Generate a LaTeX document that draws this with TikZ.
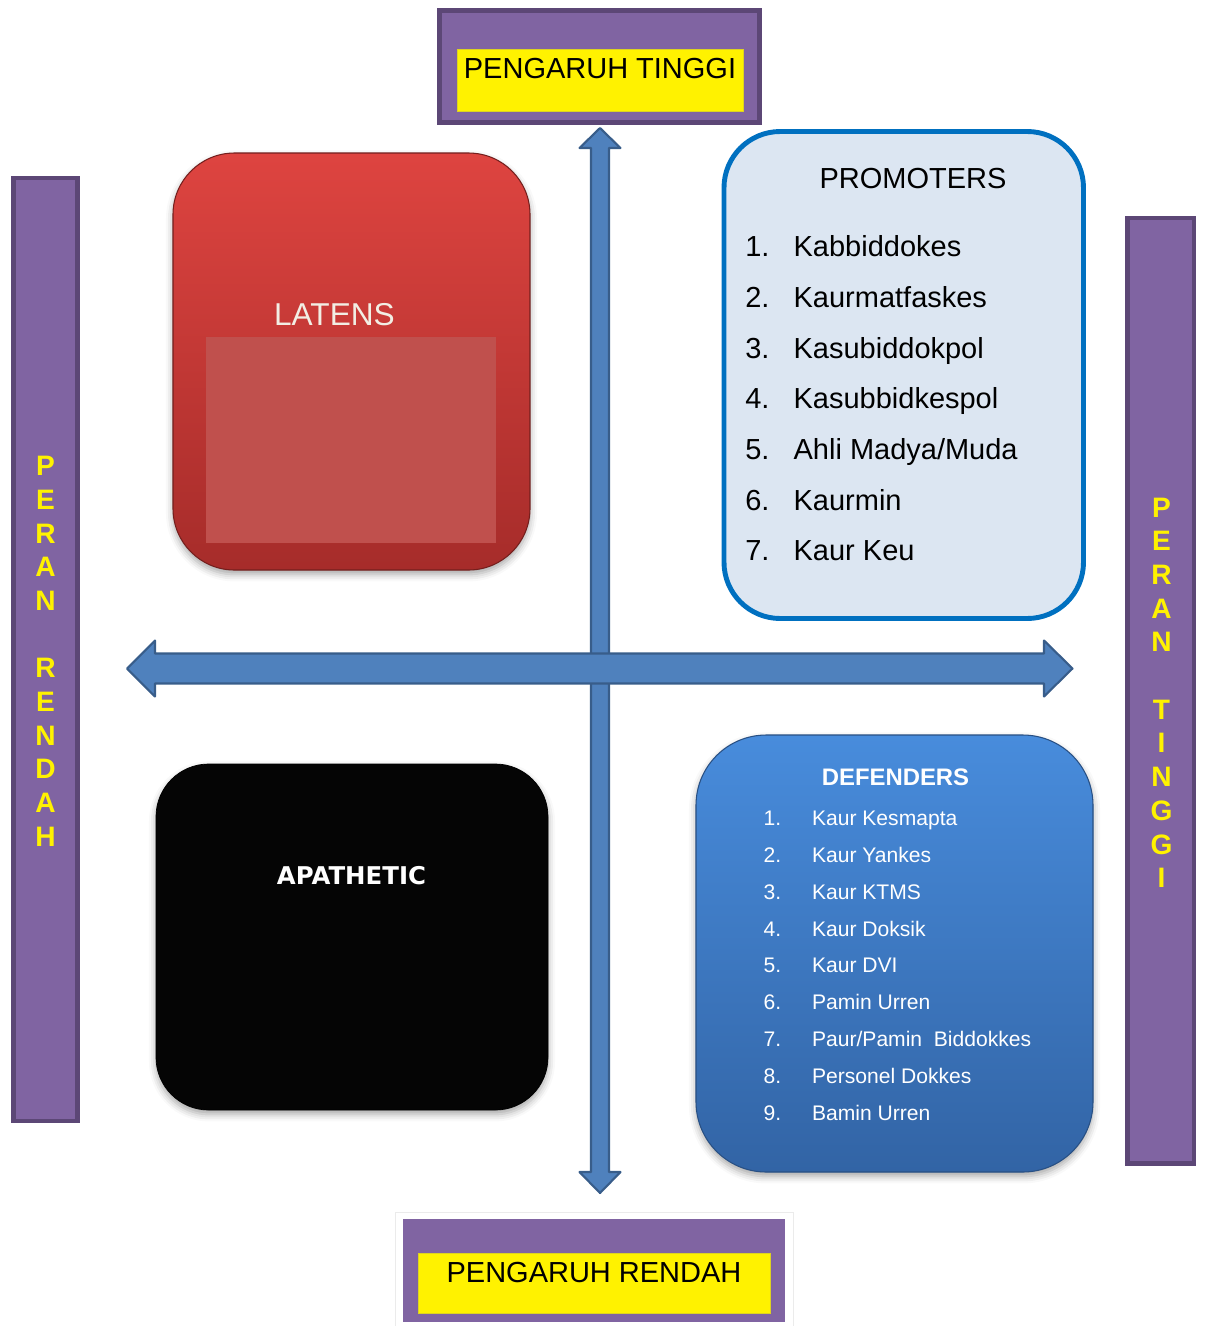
\documentclass[tikz,border=0pt]{standalone}
\usepackage{fontspec}
\setmainfont{Liberation Sans}
\newfontfamily\widebold{DejaVu Sans}
\usepackage{xcolor}
\usepackage{tikz}
\usetikzlibrary{shadows.blur}

\definecolor{barpurple}{HTML}{8064A2}
\definecolor{barborder}{HTML}{5C4776}
\definecolor{axisblue}{HTML}{4F81BD}
\definecolor{axisborder}{HTML}{385D8A}
\definecolor{latenstop}{RGB}{222,68,64}
\definecolor{latensbottom}{RGB}{166,44,42}
\definecolor{latensinner}{HTML}{C0504D}
\definecolor{latensfont}{HTML}{F2EEE4}
\definecolor{promofill}{HTML}{DCE6F2}
\definecolor{promoborder}{HTML}{0070C0}
\definecolor{deftop}{RGB}{72,140,220}
\definecolor{defbottom}{RGB}{50,100,165}

\tikzset{
  purplebar/.style={fill=barpurple, draw=barborder, line width=2.8pt},
  yellowpad/.style={fill=yellow, draw=yellow!85!black, line width=0.3pt},
  pengaruh/.style={anchor=base, inner sep=0pt, font=\fontsize{16.5}{20}\selectfont},
  sideletter/.style={anchor=base, inner sep=0pt, text=yellow, font=\fontsize{16}{19}\selectfont\bfseries},
  axisbody/.style={fill=axisblue, draw=axisborder, line width=1.2pt, line join=round},
  softshadow/.style={blur shadow={shadow xshift=0pt, shadow yshift=-2.5pt, shadow blur radius=4pt, shadow opacity=35}},
  promoitem/.style={anchor=base west, inner sep=0pt, font=\fontsize{16.5}{20}\selectfont},
  defitem/.style={anchor=base west, inner sep=0pt, text=white, font=\fontsize{12}{14}\selectfont}
}

\begin{document}
\begin{tikzpicture}[x=0.02cm, y=-0.02cm]
    \useasboundingbox (0,0) rectangle (1205,1326);

    % Influence labels
    \draw[purplebar] (439.5,10.5) rectangle (759.5,122.5);
    \draw[yellowpad] (457,49) rectangle (743,111);
    \node[pengaruh] (tinggi) at (600,78) {PENGARUH TINGGI};

    \draw[black!8, fill=white] (395,1212) rectangle (793,1330);
    \fill[barpurple] (403,1219) rectangle (785,1322);
    \draw[yellowpad] (418,1253) rectangle (770,1313);
    \node[pengaruh] (rendah) at (594,1282) {PENGARUH RENDAH};

    % Role bars
    \draw[purplebar] (13.5,178) rectangle (77.5,1121);
    \foreach \ch [count=\i] in {P,E,R,A,N,{},R,E,N,D,A,H}
        \node[sideletter] (rl\i) at (45.5,{475.6+33.7*(\i-1)}) {\ch};

    \draw[purplebar] (1127.5,218) rectangle (1194,1163.5);
    \foreach \ch [count=\i] in {P,E,R,A,N,{},T,I,N,G,G,I}
        \node[sideletter] (rt\i) at (1161.5,{517+33.7*(\i-1)}) {\ch};

    % Axes
    \draw[axisbody] (600,128) -- (620.5,148) -- (609,148) -- (609,1172) -- (620.5,1172) -- (600,1193)
        -- (579.5,1172) -- (591,1172) -- (591,148) -- (579.5,148) -- cycle;
    \draw[axisbody] (127,668.5) -- (155,640.5) -- (155,653.5) -- (1044,653.5) -- (1044,640.5) -- (1072.5,668.5)
        -- (1044,696.5) -- (1044,683.5) -- (155,683.5) -- (155,696.5) -- cycle;

    % Latens
    \draw[softshadow, top color=latenstop, bottom color=latensbottom, draw=latensbottom!70!black,
        line width=0.6pt, rounded corners=35pt] (173,153) rectangle (530,570);
    \fill[latensinner] (206,337) rectangle (496,543);
    \node[anchor=base, inner sep=0pt, text=latensfont, font=\fontsize{18}{22}\selectfont] (latens) at (334.5,325) {LATENS};

    % Apathetic
    \draw[softshadow, fill=black!98, draw=black, rounded corners=30pt] (156,764) rectangle (548,1110);
    \node[anchor=base, inner sep=0pt, text=white, font=\widebold\fontsize{13.9}{17}\selectfont\bfseries] (apathetic) at (351.5,884.3) {APATHETIC};

    % Promoters
    \draw[fill=promofill, draw=promoborder, line width=2.8pt, rounded corners=32pt] (724,131.5) rectangle (1083.5,618.5);
    \node[anchor=base, inner sep=0pt, font=\fontsize{16.5}{20}\selectfont] (promoters) at (913,188.3) {PROMOTERS};
    \foreach \t [count=\i] in {Kabbiddokes, Kaurmatfaskes, Kasubiddokpol, Kasubbidkespol, Ahli Madya/Muda, Kaurmin, Kaur Keu} {
        \node[promoitem] (pn\i) at (745,{256.7+50.67*(\i-1)}) {\i.};
        \node[promoitem] (p\i) at (793.3,{256.7+50.67*(\i-1)}) {\t};
    }

    % Defenders
    \draw[softshadow, top color=deftop, bottom color=defbottom, draw=defbottom!80!black,
        line width=0.6pt, rounded corners=40pt] (696,735) rectangle (1093,1172);
    \node[anchor=base, inner sep=0pt, text=white, font=\fontsize{13.6}{16}\selectfont\bfseries] (defenders) at (895.5,785.7) {DEFENDERS};
    \foreach \t [count=\i] in {Kaur Kesmapta, Kaur Yankes, Kaur KTMS, Kaur Doksik, Kaur DVI, Pamin Urren,
        Paur/Pamin~~Biddokkes, Personel Dokkes, Bamin Urren} {
        \node[defitem] (dn\i) at (763.3,{825.7+36.8*(\i-1)}) {\i.};
        \node[defitem] (d\i) at (811.7,{825.7+36.8*(\i-1)}) {\t};
    }
\end{tikzpicture}
\end{document}
